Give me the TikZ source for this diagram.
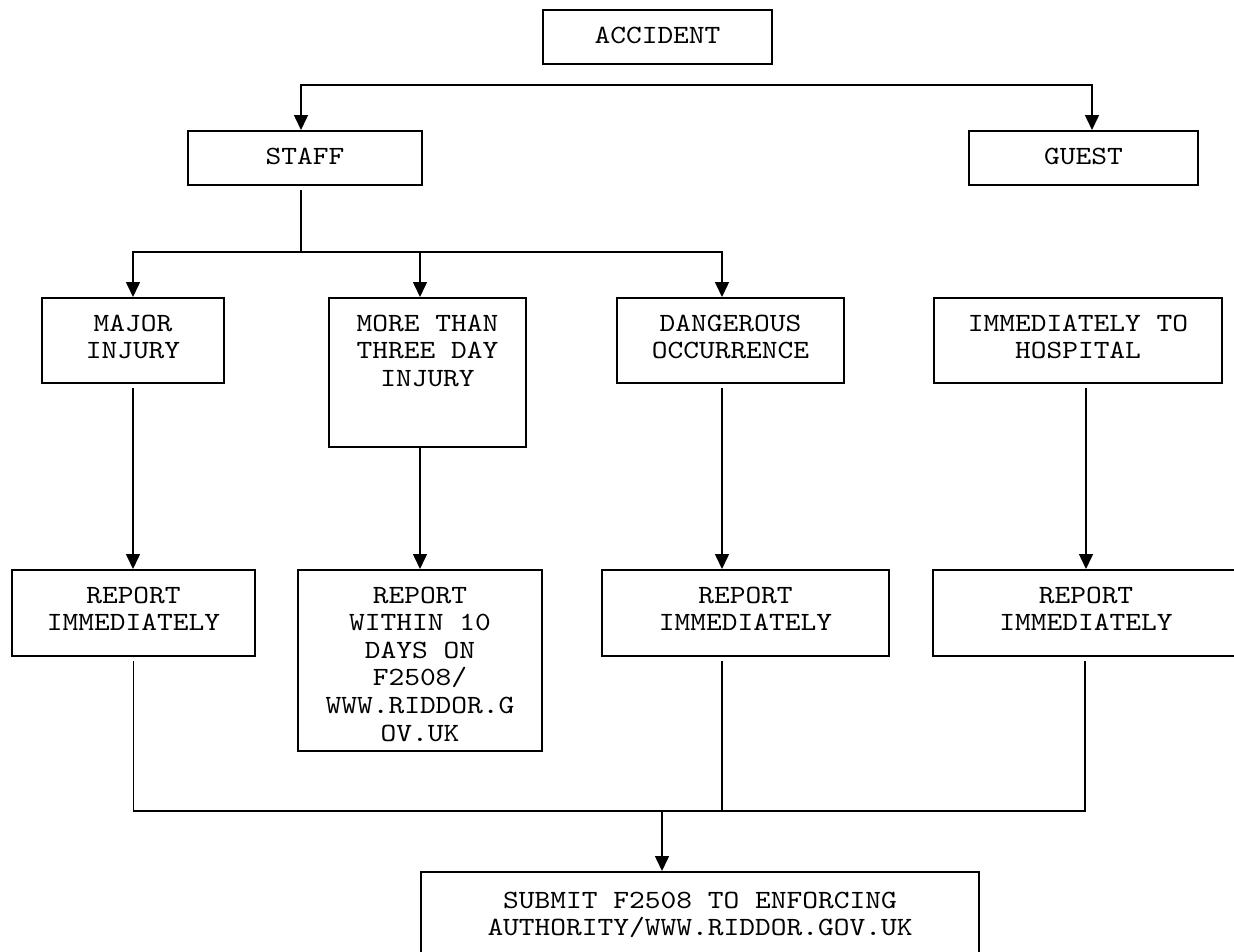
\documentclass[tikz,border=0pt]{standalone}
\usepackage{fontspec}
\newfontfamily\boxfont{lmmono10-regular.otf}[FakeStretch=1.14]
\newcommand\boxtext{\boxfont\fontsize{26.3}{27.6}\selectfont
  \fontdimen2\font=15.8pt \fontdimen3\font=0pt \fontdimen4\font=0pt }
\usetikzlibrary{arrows.meta}

\begin{document}
\begin{tikzpicture}[
  x=1pt, y=-1pt,
  every node/.style={font=\boxtext},
  box/.style={draw, line width=2pt, inner sep=0pt, anchor=north,
    align=flush center, text height=33pt},
  link/.style={line width=1.5pt},
  >={Triangle[length=15pt,width=14pt]}
]
\useasboundingbox (0,0) rectangle (1234,951);

\node[box, text width=229pt, text depth=21pt] (accident) at (657.5,9) {ACCIDENT};
\node[box, text width=234pt, text depth=21pt] (staff) at (305,130) {STAFF};
\node[box, text width=229pt, text depth=21pt] (guest) at (1083.5,130) {GUEST};

\node[box, text width=182pt, text depth=52pt] (major) at (133,297) {MAJOR\\INJURY};
\node[box, text width=197pt, text depth=116pt] (morethan) at (427.5,297) {MORE THAN\\THREE DAY\\INJURY};
\node[box, text width=227pt, text depth=52pt] (dangerous) at (730.5,297) {DANGEROUS\\OCCURRENCE};
\node[box, text width=288pt, text depth=52pt] (hospital) at (1078,297) {IMMEDIATELY TO\\HOSPITAL};

\node[box, text width=243pt, text depth=53pt] (repmajor) at (133.5,569) {REPORT\\IMMEDIATELY};
\node[box, text width=244pt, text depth=148pt] (repdays) at (420,569) {REPORT\\WITHIN 10\\DAYS ON\\F2508/\\WWW.RIDDOR.G\\OV.UK};
\node[box, text width=287pt, text depth=53pt] (repdanger) at (745.5,569) {REPORT\\IMMEDIATELY};
\node[box, text width=306pt, text depth=53pt] (rephosp) at (1086,569) {REPORT\\IMMEDIATELY};

\node[box, text width=558pt, text depth=120pt, text height=36pt] (submit) at (700,871) {SUBMIT F2508 TO ENFORCING\\AUTHORITY/WWW.RIDDOR.GOV.UK};

\coordinate (topbus) at (657,85);
\coordinate (staffbus) at (301,252);
\coordinate (endbus) at (662,811);

\draw[link, ->] (topbus) -| ([xshift=-4pt]staff.north);
\draw[link, ->] (topbus) -| ([xshift=8.5pt]guest.north);

\draw[link, shorten <=4pt] ([xshift=-4pt]staff.south) -- (staffbus);
\draw[link, ->] (staffbus) -| (major.north);
\draw[link, ->] (staffbus) -| ([xshift=-7.5pt]morethan.north);
\draw[link, ->] (staffbus) -| ([xshift=-8.5pt]dangerous.north);

\draw[link, ->, shorten <=4pt] (major.south) -- (major.south |- repmajor.north);
\draw[link, ->] (repdays.north |- morethan.south) -- (repdays.north);
\draw[link, ->, shorten <=4pt] ([xshift=-8.5pt]dangerous.south) -- ([xshift=-8.5pt]dangerous.south |- repdanger.north);
\draw[link, ->, shorten <=4pt] (rephosp.north |- hospital.south) -- (rephosp.north);

\draw[link, shorten <=4pt] (repmajor.south) |- (endbus);
\draw[link, shorten <=4pt] ([xshift=-23.5pt]repdanger.south) |- (endbus);
\draw[link, shorten <=4pt] ([xshift=-1pt]rephosp.south) |- (endbus);
\draw[link, ->] (endbus) -- (endbus |- submit.north);
\end{tikzpicture}
\end{document}
